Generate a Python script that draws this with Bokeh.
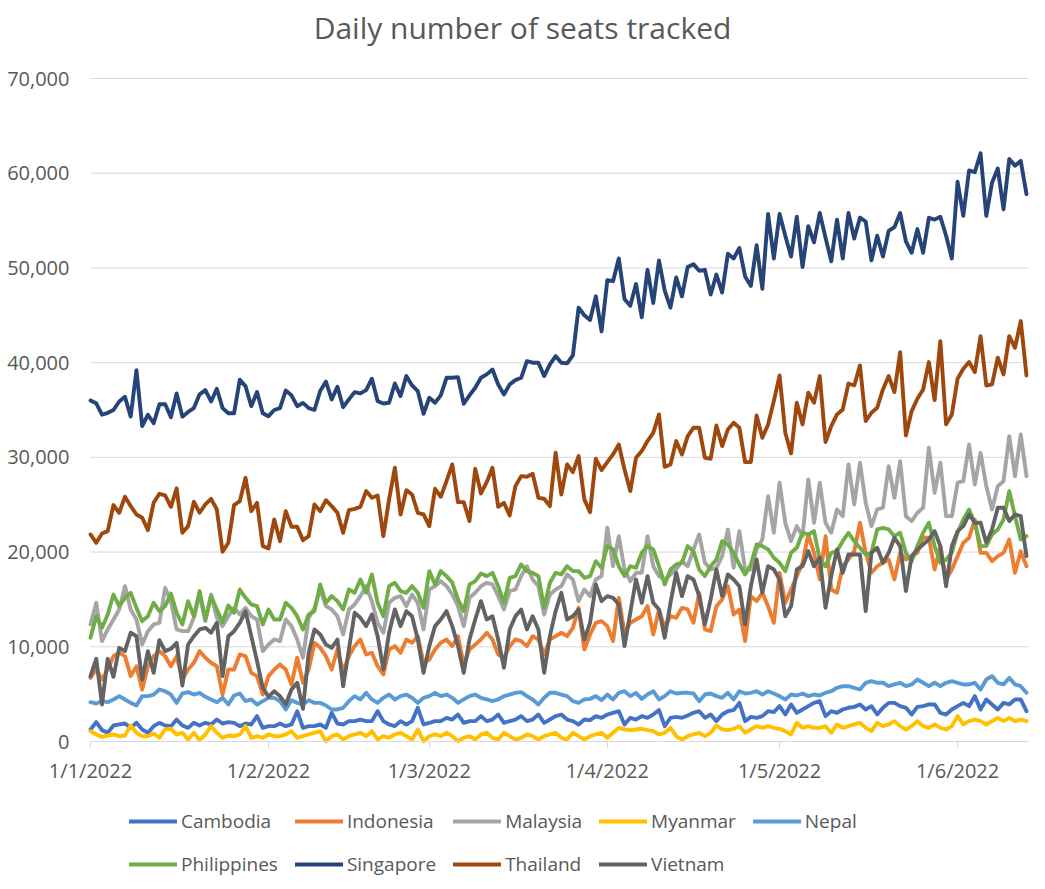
from datetime import date
from bokeh.plotting import figure
from bokeh.models import Range1d, FixedTicker, NumeralTickFormatter, Legend, LegendItem, Label
from bokeh.embed import file_html
from bokeh.resources import INLINE

# ---------------- data (daily seats, from 1 Jan 2022) ----------------
start_date = date(2022, 1, 1)
tick_dates = [date(2022, m, 1) for m in range(1, 7)]
tick_labels = [f"{d.day}/{d.month}/{d.year}" for d in tick_dates]
y_ticks = [0, 10000, 20000, 30000, 40000, 50000, 60000, 70000]
title_text = "Daily number of seats tracked"

cambodia = [1270, 2040, 1200, 920, 1690, 1800, 1900, 1440, 1970, 1270, 920, 1620, 1970, 1690, 1620, 2320, 1690, 1440, 1970, 1690, 1970, 1800, 2320, 1900, 2040, 1970, 1620, 1900, 1800, 2680, 1440, 1620, 1620, 1900, 1620, 1800, 3200, 1440, 1620, 1620, 1800, 1440, 3030,
            1900, 1800, 2150, 2150, 2320, 2150, 2150, 3200, 2150, 1800, 1620, 2150, 1800, 2150, 3560, 1800, 1970, 2150, 2150, 2500, 2320, 2850, 1970, 2150, 2150, 2680, 2150, 2320, 2850, 1970, 2150, 2320, 2680, 2150, 2320, 2850, 1970, 2320, 2680, 2850, 2320, 2150, 1800, 2320,
            2250, 2680, 2500, 2850, 3030, 3200, 1800, 2500, 2320, 2680, 2500, 2850, 3310, 1620, 2500, 2600, 2500, 2750, 3030, 3200, 2500, 2850, 2150, 2850, 3200, 3310, 4080, 2150, 2600, 2500, 2680, 3200, 3100, 3730, 2850, 3910, 3030, 3380,
            3730, 4080, 4260, 2680, 3200, 3030, 3380, 3560, 3660, 3910, 3380, 3730, 2850, 3560, 4080, 4080, 3730, 3560, 2850, 3660, 3730, 3910, 3910, 3030, 2850, 3380, 3730, 4080, 3730, 4790, 3380, 4440, 3910, 3380, 4080, 3910, 4440, 4440, 3200]

indonesia = [6720, 7600, 6550, 7600, 9010, 9370, 9010, 6900, 7950, 5490, 7950, 9010, 9540, 9010, 7950, 9010, 6550, 7600, 8310, 9540, 8840, 8310, 7950, 4960, 7600, 7600, 9190, 9010, 7250, 6900, 4960, 6900, 7600, 8130, 7600, 6020, 8840, 6200, 7600, 10420, 9890, 9010, 7600,
             9720, 7430, 9010, 10070, 10770, 9190, 9370, 7950, 7080, 9720, 10070, 9370, 10770, 10420, 11120, 8310, 8660, 9720, 10420, 10770, 10070, 11120, 8130, 9720, 10240, 10770, 11480, 10770, 9190, 8840, 10070, 10770, 10600, 10070, 11120, 10770, 9190, 10770, 11120, 11480, 11120, 12000, 14110, 9720,
             11300, 12530, 12710, 12180, 10600, 15170, 11480, 12530, 12880, 13230, 14290, 11300, 13940, 12000, 13230, 13060, 14110, 13940, 12530, 15700, 11830, 11650, 14290, 15000, 16400, 13410, 13940, 10600, 15350, 14820, 15700, 14290, 12530, 17810, 14640, 16050, 17460, 18870,
             21860, 19920, 17110, 21680, 16050, 15700, 18510, 19220, 20100, 23090, 19920, 17810, 18510, 18870, 19220, 17110, 19920, 19220, 19570, 19920, 21510, 21510, 18160, 20630, 17110, 18160, 19570, 20980, 21510, 23440, 19920, 19920, 19040, 19570, 19920, 21330, 17810, 20100, 18510]

malaysia = [12360, 14640, 10600, 11830, 12880, 13940, 16400, 13940, 12880, 10240, 11650, 12360, 12530, 16230, 14820, 11830, 11650, 11650, 13060, 15520, 12710, 15520, 13060, 12180, 13230, 14110, 13410, 14110, 13230, 12880, 9540, 10240, 10770, 10600, 12880, 12180, 10770, 8840, 13060, 14110, 16050, 14290, 13940,
            13230, 11300, 13940, 14470, 15350, 16400, 14820, 12530, 11480, 14640, 15170, 15350, 14290, 15520, 14640, 11830, 16050, 16400, 16930, 16400, 15520, 14290, 12180, 15170, 15700, 16400, 16760, 16580, 15350, 13940, 15880, 16050, 17460, 18510, 17110, 16400, 13410, 15520, 16050, 16400, 17640, 17110, 14820, 16050,
            15350, 17110, 17460, 22560, 18510, 21680, 18160, 16930, 17810, 17810, 21680, 18510, 17460, 17110, 17640, 18160, 19040, 18510, 20280, 21860, 18870, 18160, 18340, 19570, 22390, 18340, 22210, 18160, 18160, 20280, 21330, 25900, 22040, 27320, 23090, 21150, 22740, 21680,
            27670, 23090, 27320, 23090, 22040, 24500, 23790, 29250, 25030, 29430, 25200, 22740, 24500, 24680, 29070, 25730, 29600, 23790, 23270, 24150, 24680, 31010, 26260, 29430, 23790, 23790, 27320, 27490, 31360, 27140, 30480, 26960, 24500, 26960, 27490, 32240, 28020, 32420, 28020]

myanmar = [1090, 740, 490, 630, 740, 560, 630, 1690, 920, 560, 560, 850, 390, 1270, 1340, 740, 920, 210, 920, 140, 740, 1620, 920, 390, 630, 560, 740, 1620, 390, 560, 390, 740, 560, 560, 740, 1090, 390, 560, 740, 920, 1090, 30, 560,
           740, 210, 560, 740, 920, 560, 1090, 210, 560, 390, 740, 920, 560, 210, 1270, 30, 560, 740, 560, 920, 560, 30, 390, 560, 210, 740, 920, 390, 210, 920, 560, 210, 390, 740, 560, 210, 560, 740, 920, 390, 210, 920, 560, 210,
           560, 740, 920, 390, 920, 1440, 1270, 1200, 1270, 1340, 1200, 1090, 740, 920, 1440, 560, 210, 560, 740, 920, 560, 920, 1690, 1270, 1200, 1340, 1620, 920, 1270, 1620, 1440, 1620, 1440, 1340, 1090, 740, 1970, 1440,
           1620, 1440, 1440, 1620, 920, 1800, 1440, 1620, 1800, 1970, 1440, 1090, 1970, 1620, 1800, 2150, 1620, 1270, 1620, 2150, 1620, 1440, 1800, 1440, 1270, 1620, 2680, 1800, 2150, 2320, 2150, 1800, 2150, 2500, 2150, 2500, 2150, 2320, 2150]

nepal = [4150, 4010, 4260, 4150, 4440, 4790, 4440, 4080, 3800, 4790, 4790, 4960, 5490, 5310, 4960, 4080, 5070, 5210, 4960, 5140, 4720, 4440, 4150, 4610, 3910, 4860, 5070, 4260, 4440, 3910, 4260, 4610, 4610, 4260, 3380, 4360, 4080, 3910, 4360, 4080, 4080, 3800, 3380,
         3380, 3560, 4260, 4790, 4440, 5140, 4440, 4080, 4610, 4960, 4440, 4790, 4960, 4610, 4080, 4610, 4790, 5140, 4790, 4960, 4610, 4080, 4440, 4790, 4960, 4610, 4440, 4260, 4440, 4790, 4960, 5140, 5210, 4790, 4440, 3910, 4610, 5140, 5140, 4960, 4790, 4260, 4080, 4440,
         4500, 4790, 4360, 4960, 4440, 5140, 5310, 4790, 5140, 4500, 4960, 5310, 4440, 4790, 5310, 5070, 5140, 5140, 5070, 4260, 4960, 5070, 4790, 4610, 5140, 4440, 5310, 5070, 5140, 5310, 4960, 5310, 5070, 4790, 4440, 4960, 4860, 5070,
         4790, 4960, 4860, 5140, 5310, 5670, 5840, 5840, 5670, 5490, 6200, 6370, 6200, 6200, 5840, 6020, 6200, 5840, 6020, 6550, 6200, 5840, 6200, 5840, 6200, 6370, 6200, 6020, 6020, 6200, 5490, 6550, 6900, 6200, 6020, 6720, 6020, 5840, 5140]

philippines = [10950, 13230, 12000, 13410, 15520, 14290, 15170, 15700, 14110, 12710, 13230, 14640, 13760, 14290, 15630, 13590, 12360, 14820, 13230, 15880, 12880, 15350, 13940, 12600, 14360, 13590, 16050, 15170, 14470, 14290, 12360, 13940, 12880, 12880, 14640, 14110, 13230, 11830, 13410, 13760, 16580, 14640, 15350,
               14820, 13940, 16050, 15700, 17110, 15700, 17640, 14640, 13230, 16400, 16760, 15880, 15700, 16400, 15700, 14110, 17990, 16580, 17990, 17460, 16760, 15000, 13760, 16580, 16930, 17740, 17460, 17810, 16400, 14640, 17280, 17460, 18690, 17990, 17810, 17460, 14110, 16760, 17810, 17640, 18510, 17990, 17990, 17280,
               17460, 19040, 18340, 20630, 20280, 18510, 17460, 18510, 18340, 19920, 20630, 20280, 18510, 16580, 18160, 18690, 18870, 20630, 20100, 18160, 17460, 18510, 19220, 21150, 20800, 19920, 18690, 17640, 18690, 20800, 20630, 20280, 19400, 18870, 17990, 19920, 20450, 22040,
               21860, 22210, 19220, 18510, 19920, 20100, 21150, 22040, 21150, 20450, 19750, 19920, 22390, 22560, 22390, 21680, 22040, 19920, 19040, 20630, 22040, 23090, 20630, 18870, 19220, 19920, 22040, 23440, 24500, 23090, 20630, 20630, 21860, 22390, 23440, 26440, 23790, 21330, 21680]

singapore = [36000, 35700, 34500, 34700, 35000, 35900, 36400, 34300, 39200, 33300, 34500, 33600, 35600, 35600, 34250, 36750, 34300, 34800, 35200, 36650, 37100, 35900, 37250, 35200, 34650, 34650, 38200, 37500, 35400, 36900, 34650, 34350, 35000, 35200, 37050, 36550, 35400, 35750, 35200, 35000, 37000, 38000,
             36120, 37450, 35300, 36120, 36890, 36750, 37100, 38300, 35940, 35690, 35760, 37800, 36470, 38580, 37590, 36990, 34600, 36290, 35760, 36540, 38400, 38400, 38470, 35660, 36540, 37350, 38400, 38760, 39280, 37700, 36640, 37700, 38150, 38400, 40160, 39990, 39990, 38580, 39810, 40690, 39990, 39920,
             40760, 45800, 45000, 44500, 47000, 43300, 48700, 48600, 51000, 46700, 46000, 48300, 44800, 49800, 46300, 50800, 47600, 45800, 49000, 47000, 50100, 50400, 49700, 49800, 47200, 49300, 47400, 51500, 51000, 52100, 49100, 48100, 52400, 47800, 55700, 51000, 55700, 53400, 51200, 55400, 50100, 54400,
             52700, 55800, 53200, 50700, 55100, 51000, 55800, 53100, 55300, 54900, 50800, 53400, 51200, 53900, 54300, 55800, 52800, 51600, 54100, 51600, 55300, 55100, 55400, 53400, 51000, 59100, 55500, 60300, 60100, 62100, 55500, 59000, 60500, 56200, 61500, 60800, 61300, 57800]

thailand = [21860, 20980, 21960, 22210, 24960, 24150, 25840, 24850, 23970, 23620, 22320, 25200, 26150, 25980, 24780, 26720, 22030, 22740, 25310, 24150, 25030, 25620, 24500, 20030, 20980, 24960, 25380, 27840, 24320, 25200, 20630, 20380, 23440, 21150, 24320, 22670, 22670, 21260, 21680, 25030, 24320, 25480,
            24850, 24150, 22030, 24430, 24570, 24780, 26440, 25730, 25980, 21680, 25560, 28900, 23970, 26540, 26080, 24150, 23970, 22740, 26680, 25840, 27490, 29250, 25270, 25270, 23270, 28790, 26190, 27380, 28900, 24780, 25200, 23870, 26960, 28020, 27950, 28270, 25730, 25630, 24850, 30480, 26080, 29250,
            28440, 30130, 25560, 24220, 29850, 28650, 29500, 30310, 31360, 28720, 26440, 29950, 30660, 31720, 32590, 34530, 29000, 29250, 31720, 30310, 32240, 33120, 33120, 29950, 29850, 33370, 31190, 32950, 33650, 33120, 29500, 29500, 34430, 32070, 33480, 35940, 38650, 32590, 30410, 35760, 33480, 36820,
            35760, 38580, 31610, 33300, 34530, 35060, 37800, 37590, 39710, 33830, 34710, 35240, 37170, 38580, 36890, 41110, 32310, 34880, 36190, 37170, 40060, 36040, 42270, 33480, 34530, 38300, 39350, 40060, 39000, 42800, 37590, 37700, 40520, 38760, 42800, 41570, 44390, 38650]

vietnam = [6900, 8730, 3910, 8730, 6830, 9890, 9540, 11480, 11120, 6550, 9540, 7250, 10700, 9540, 9790, 10420, 5910, 10240, 11120, 11830, 12000, 11480, 12530, 6900, 11120, 11650, 12530, 13760, 11120, 8480, 5670, 4720, 5310, 4790, 3910, 5490, 6200, 3450, 9370, 11830, 11300, 10240, 9890,
           10770, 5840, 9720, 13590, 13060, 12180, 13410, 11120, 7600, 11480, 13940, 12180, 13760, 13230, 10770, 7250, 10070, 12180, 12880, 13760, 12180, 10070, 7250, 10770, 12880, 14820, 12880, 13230, 10770, 7780, 11830, 13230, 13940, 11830, 13230, 11830, 7250, 11120, 13760, 15700, 12880, 13230, 13940, 10770,
           12530, 16580, 14820, 15350, 15170, 14470, 10070, 13590, 17110, 14640, 17460, 14640, 13940, 10950, 14640, 17810, 15350, 17460, 17110, 15350, 12360, 15000, 18160, 15350, 17640, 17110, 16400, 12360, 16400, 19220, 15700, 18510, 18160, 17110, 13230, 14290, 18160, 18510,
           20100, 18510, 19400, 14110, 17460, 20280, 17810, 19750, 19750, 19750, 13760, 19920, 20450, 18870, 19920, 21510, 20630, 15880, 19570, 20280, 20800, 21330, 22210, 20630, 16400, 20630, 22210, 22740, 23970, 23090, 23090, 20980, 22390, 24680, 24680, 23270, 23970, 23790, 19570]

series_names = ["Cambodia", "Indonesia", "Malaysia", "Myanmar", "Nepal",
                "Philippines", "Singapore", "Thailand", "Vietnam"]
series_values = [cambodia, indonesia, malaysia, myanmar, nepal,
                 philippines, singapore, thailand, vietnam]
series_colors = ["#4472C4", "#ED7D31", "#A5A5A5", "#FFC000", "#5B9BD5",
                 "#70AD47", "#264478", "#9E480E", "#636363"]

# ---------------- layout geometry (canvas pixels) ----------------
FONT = "Open Sans"
TXT = "#595959"
GRID = "#D9D9D9"
W, H = 1029, 880
PLOT_LEFT, PLOT_RIGHT = 90, 1028      # canvas columns of day 0 and of the axis end
PLOT_TOP, PLOT_ZERO = 78, 741         # canvas rows of 70,000 and of 0

n_days = max(len(v) for v in series_values)
x_end = n_days - 1 + 0.35
px_per_day = (PLOT_RIGHT - PLOT_LEFT) / x_end
x_start = -PLOT_LEFT / px_per_day
x_stop = x_end + (W - PLOT_RIGHT) / px_per_day

y_max = y_ticks[-1]
per_px = y_max / (PLOT_ZERO - PLOT_TOP)
y_end = y_max + PLOT_TOP * per_px
y_start = -(H - PLOT_ZERO) * per_px

p = figure(width=W, height=H, output_backend="svg", toolbar_location=None,
           x_range=Range1d(x_start, x_stop), y_range=Range1d(y_start, y_end),
           min_border_left=0, min_border_right=0, min_border_top=0, min_border_bottom=0)
p.outline_line_color = None
p.background_fill_color = "white"
p.border_fill_color = "white"
p.xgrid.grid_line_color = None
p.ygrid.grid_line_color = None

# horizontal gridlines across the plot area
p.segment(x0=[0] * len(y_ticks), y0=y_ticks, x1=[x_end] * len(y_ticks), y1=y_ticks,
          line_color=GRID, line_width=1)

tick_pos = [(d - start_date).days for d in tick_dates]
p.xaxis.fixed_location = 0
p.xaxis.bounds = (0, x_end)
p.xaxis.ticker = FixedTicker(ticks=tick_pos)
p.xaxis.major_label_overrides = {t: l for t, l in zip(tick_pos, tick_labels)}
p.xaxis.axis_line_color = GRID
p.xaxis.major_tick_line_color = GRID
p.xaxis.major_tick_in = 0
p.xaxis.major_tick_out = 7
p.xaxis.minor_tick_line_color = None
p.xaxis.major_label_standoff = 8
p.xaxis.major_label_text_font = FONT
p.xaxis.major_label_text_font_size = "20px"
p.xaxis.major_label_text_color = TXT

p.yaxis.fixed_location = 0
p.yaxis.ticker = FixedTicker(ticks=y_ticks)
p.yaxis.formatter = NumeralTickFormatter(format="0,0")
p.yaxis.axis_line_color = None
p.yaxis.major_tick_line_color = None
p.yaxis.minor_tick_line_color = None
p.yaxis.major_tick_in = 0
p.yaxis.major_tick_out = 0
p.yaxis.major_label_standoff = 21
p.yaxis.major_label_text_font = FONT
p.yaxis.major_label_text_font_size = "20px"
p.yaxis.major_label_text_color = TXT

items = []
for name, vals, col in zip(series_names, series_values, series_colors):
    xs = list(range(len(vals)))
    r = p.line(xs, vals, line_color=col, line_width=3.9,
               line_join="round", line_cap="round")
    items.append(LegendItem(label=name, renderers=[r]))

title = Label(x=522, y=H - 27, x_units="screen", y_units="screen",
              text=title_text, text_font=FONT, text_font_size="30px",
              text_color=TXT, text_align="center", text_baseline="middle")
p.add_layout(title)

legend = Legend(items=items, orientation="horizontal", ncols=5,
                location=(129, 3), padding=0, margin=0, spacing=17,
                glyph_width=48, glyph_height=20, label_height=20,
                label_standoff=4, label_text_font=FONT,
                label_text_font_size="19px", label_text_color=TXT,
                border_line_color=None, background_fill_alpha=0)
p.add_layout(legend, "center")

open("out.html", "w").write(file_html(p, INLINE))
